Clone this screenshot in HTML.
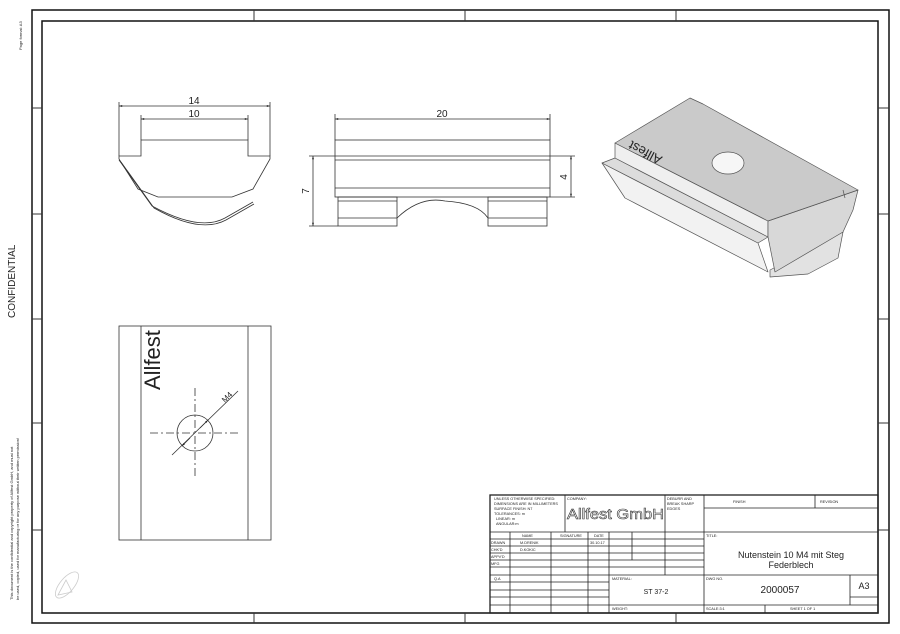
<!DOCTYPE html>
<html><head><meta charset="utf-8"><style>
html,body{margin:0;padding:0;background:#fff}
svg{display:block}
text{font-family:"Liberation Sans",sans-serif;fill:#222}
</style></head><body>
<svg width="900" height="634" viewBox="0 0 900 634" xmlns="http://www.w3.org/2000/svg">
<defs>
<marker id="ar" viewBox="0 0 10 10" refX="10" refY="5" markerWidth="6" markerHeight="4" orient="auto-start-reverse"><path d="M0,2 L10,5 L0,8z" fill="#222"/></marker>
</defs>
<rect x="0" y="0" width="900" height="634" fill="#fff"/>
<rect x="32" y="10" width="857" height="613" fill="none" stroke="#111" stroke-width="1.5"/>
<rect x="42" y="21" width="836" height="592" fill="none" stroke="#111" stroke-width="1.5"/>
<g stroke="#333" stroke-width="1">
<line x1="32" y1="108" x2="42" y2="108"/><line x1="32" y1="319" x2="42" y2="319"/><line x1="32" y1="530" x2="42" y2="530"/><line x1="32" y1="423" x2="42" y2="423"/><line x1="32" y1="214" x2="42" y2="214"/>
<line x1="878" y1="108" x2="889" y2="108"/><line x1="878" y1="319" x2="889" y2="319"/><line x1="878" y1="530" x2="889" y2="530"/><line x1="878" y1="214" x2="889" y2="214"/><line x1="878" y1="423" x2="889" y2="423"/>
<line x1="254" y1="10" x2="254" y2="21"/><line x1="465" y1="10" x2="465" y2="21"/><line x1="676" y1="10" x2="676" y2="21"/>
<line x1="254" y1="613" x2="254" y2="623"/><line x1="465" y1="613" x2="465" y2="623"/><line x1="676" y1="613" x2="676" y2="623"/>
</g>
<text transform="translate(22,50) rotate(-90)" font-size="4">Page format: A3</text>
<text transform="translate(15,318) rotate(-90)" font-size="10">CONFIDENTIAL</text>
<text transform="translate(13,600) rotate(-90)" font-size="4">This document is the confidential and copyright property of Allfest GmbH, and must not</text>
<text transform="translate(19,600) rotate(-90)" font-size="4">be used, copied, used for manufacturing or for any purpose without their written permission!</text>
<g stroke="#ccc" fill="none" stroke-width="0.8"><ellipse cx="67" cy="585" rx="16" ry="7" transform="rotate(-50 67 585)"/><path d="M58,595 L66,580 L72,592z"/></g>

<!-- front view -->
<g stroke="#333" stroke-width="0.8" fill="none">
<line x1="119" y1="102" x2="119" y2="156"/><line x1="270" y1="102" x2="270" y2="156"/>
<line x1="141" y1="115" x2="141" y2="140"/><line x1="248" y1="115" x2="248" y2="140"/>
<line x1="119" y1="106" x2="270" y2="106" marker-start="url(#ar)" marker-end="url(#ar)"/>
<line x1="141" y1="119" x2="248" y2="119" marker-start="url(#ar)" marker-end="url(#ar)"/>
<path d="M141,156 L141,140 L248,140 L248,156 L270,156 L270,159 L253,189 L232,197 L158,197 L138,189 L119,159 L119,156 Z"/>
<path d="M119,160 L152,206 Q200,232 225,218 L253,202"/>
<path d="M121,162 L154,208 Q200,234 226,220 L254,204"/>
</g>
<text x="194" y="104" font-size="10" text-anchor="middle">14</text>
<text x="194" y="117" font-size="10" text-anchor="middle">10</text>

<!-- side view -->
<g stroke="#333" stroke-width="0.8" fill="none">
<line x1="335" y1="114" x2="335" y2="140"/><line x1="550" y1="114" x2="550" y2="140"/>
<line x1="335" y1="119" x2="550" y2="119" marker-start="url(#ar)" marker-end="url(#ar)"/>
<rect x="335" y="140" width="215" height="57" fill="#fff"/>
<line x1="335" y1="156" x2="550" y2="156"/><line x1="335" y1="160" x2="550" y2="160"/><line x1="335" y1="188" x2="550" y2="188"/>
<rect x="338" y="197" width="59" height="29"/><rect x="488" y="197" width="59" height="29"/>
<line x1="338" y1="201" x2="397" y2="201"/><line x1="338" y1="218" x2="397" y2="218"/>
<line x1="488" y1="201" x2="547" y2="201"/><line x1="488" y1="218" x2="547" y2="218"/>
<path d="M397,218 Q420,196 445,201 Q478,203 488,218"/>
<line x1="309" y1="156" x2="335" y2="156"/><line x1="309" y1="226" x2="338" y2="226"/>
<line x1="313" y1="156" x2="313" y2="226" marker-start="url(#ar)" marker-end="url(#ar)"/>
<line x1="550" y1="156" x2="575" y2="156"/><line x1="550" y1="197" x2="575" y2="197"/>
<line x1="571" y1="156" x2="571" y2="197" marker-start="url(#ar)" marker-end="url(#ar)"/>
</g>
<text x="442" y="117" font-size="10" text-anchor="middle">20</text>
<text transform="translate(309,191) rotate(-90)" font-size="10" text-anchor="middle">7</text>
<text transform="translate(567,177) rotate(-90)" font-size="10" text-anchor="middle">4</text>

<!-- top view -->
<g stroke="#333" stroke-width="0.8" fill="none">
<rect x="119" y="326" width="152" height="214"/>
<line x1="141" y1="326" x2="141" y2="540"/><line x1="248" y1="326" x2="248" y2="540"/>
<circle cx="195" cy="433" r="18"/>
<line x1="150" y1="433" x2="240" y2="433" stroke-dasharray="8,3,2,3"/>
<line x1="195" y1="388" x2="195" y2="478" stroke-dasharray="8,3,2,3"/>
<line x1="172" y1="455" x2="238" y2="391"/>
<line x1="190" y1="438" x2="182" y2="446" marker-end="url(#ar)"/>
<line x1="200" y1="428" x2="208" y2="420" marker-end="url(#ar)"/>
</g>
<text transform="translate(225,403) rotate(-45)" font-size="8">M4</text>
<svg x="119" y="326" width="152" height="214" overflow="hidden"><text transform="translate(41,64) rotate(-90)" font-size="22" fill="#555">Allfest</text></svg>

<!-- iso view -->
<g stroke="#555" stroke-width="0.7" stroke-linejoin="round">
<polygon points="770,270 843,232 838,258 808,274 770,277" fill="#e2e2e2"/>
<polygon points="602,163 758,243 768,272 625,198" fill="#f2f2f2"/>
<polygon points="615,158 768,237 758,243 602,163" fill="#dcdcdc"/>
<polygon points="615,143 768,221 768,237 615,158" fill="#efefef"/>
<polygon points="768,221 858,190 853,210 843,232 775,272 768,237" fill="#d8d8d8"/>
<polygon points="615,143 690,98 703,104 858,190 768,221" fill="#cacaca"/>
<line x1="843" y1="190" x2="845" y2="198"/>
<ellipse cx="728" cy="163" rx="16" ry="11" fill="#f6f6f6"/>
</g>
<text transform="translate(663,157) rotate(208)" font-size="13" fill="#333">Allfest</text>

<!-- title block -->
<g stroke="#222" stroke-width="0.8" fill="none">
<rect x="490" y="495" width="388" height="118" stroke-width="1.3"/>
<line x1="490" y1="532" x2="704" y2="532"/>
<line x1="565" y1="495" x2="565" y2="532"/><line x1="665" y1="495" x2="665" y2="575"/><line x1="704" y1="495" x2="704" y2="613"/>
<line x1="704" y1="508" x2="878" y2="508"/><line x1="815" y1="495" x2="815" y2="508"/>
<line x1="704" y1="532" x2="878" y2="532"/>
<line x1="510" y1="532" x2="510" y2="613"/><line x1="551" y1="532" x2="551" y2="613"/><line x1="588" y1="532" x2="588" y2="613"/><line x1="609" y1="532" x2="609" y2="613"/><line x1="632" y1="532" x2="632" y2="560"/>
<line x1="490" y1="539" x2="704" y2="539"/><line x1="490" y1="546" x2="704" y2="546"/><line x1="490" y1="553" x2="704" y2="553"/><line x1="490" y1="560" x2="704" y2="560"/><line x1="490" y1="567" x2="704" y2="567"/>
<line x1="490" y1="575" x2="878" y2="575"/>
<line x1="490" y1="582" x2="609" y2="582"/><line x1="490" y1="590" x2="609" y2="590"/><line x1="490" y1="597" x2="609" y2="597"/>
<line x1="490" y1="605" x2="878" y2="605"/>
<line x1="850" y1="575" x2="850" y2="605"/><line x1="850" y1="597" x2="878" y2="597"/>
<line x1="765" y1="605" x2="765" y2="613"/>
</g>
<g font-size="3.8" fill="#333">
<text x="494" y="500">UNLESS OTHERWISE SPECIFIED:</text>
<text x="494" y="505">DIMENSIONS ARE IN MILLIMETERS</text>
<text x="494" y="510">SURFACE FINISH: N7</text>
<text x="494" y="515">TOLERANCES: m</text>
<text x="496" y="520">LINEAR: m</text>
<text x="496" y="525">ANGULAR:m</text>
<text x="567" y="500">COMPANY:</text>
<text x="667" y="500">DEBURR AND</text>
<text x="667" y="505">BREAK SHARP</text>
<text x="667" y="510">EDGES</text>
<text x="733" y="503">FINISH</text>
<text x="820" y="503">REVISION</text>
<text x="522" y="537">NAME</text><text x="560" y="537">SIGNATURE</text><text x="594" y="537">DATE</text>
<text x="491" y="544">DRAWN</text><text x="520" y="544">M.DRENIK</text><text x="590" y="544">30.10.17</text>
<text x="491" y="551">CHK'D</text><text x="520" y="551">D.KOKIC</text>
<text x="491" y="558">APPV'D</text><text x="491" y="565">MFG</text><text x="494" y="580">Q.A</text>
<text x="612" y="580">MATERIAL:</text><text x="612" y="610">WEIGHT:</text>
<text x="706" y="537">TITLE:</text><text x="706" y="580">DWG NO.</text>
<text x="706" y="610">SCALE:3:1</text><text x="790" y="610">SHEET 1 OF 1</text>
</g>
<text x="567" y="519" font-size="15" textLength="97" lengthAdjust="spacingAndGlyphs" style="fill:#fff" stroke="#333" stroke-width="0.6">Allfest GmbH</text>
<text x="791" y="558" font-size="9" text-anchor="middle">Nutenstein 10 M4 mit Steg</text>
<text x="791" y="568" font-size="9" text-anchor="middle">Federblech</text>
<text x="656" y="594" font-size="7" text-anchor="middle">ST 37-2</text>
<text x="780" y="593" font-size="10" text-anchor="middle">2000057</text>
<text x="864" y="589" font-size="9" text-anchor="middle">A3</text>
</svg>
</body></html>
